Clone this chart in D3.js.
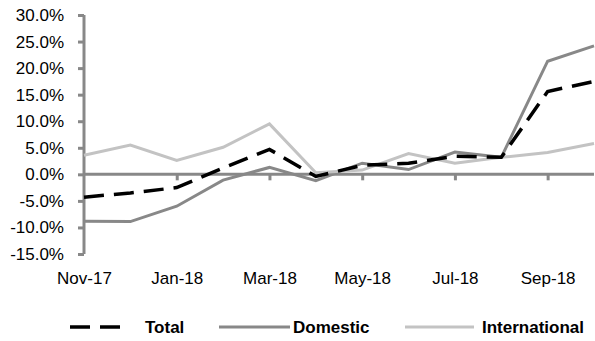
<!DOCTYPE html>
<html>
<head>
<meta charset="utf-8">
<script src="https://cdn.jsdelivr.net/npm/d3@7"></script>
<style>
  body { margin: 0; background: #fff; }
  text { font-family: "Liberation Sans", Arial, sans-serif; fill: #000; }
</style>
</head>
<body>
<div id="chart"></div>
<script>
// monthly growth, %
var months = ["Nov-17", "Dec-17", "Jan-18", "Feb-18", "Mar-18", "Apr-18",
              "May-18", "Jun-18", "Jul-18", "Aug-18", "Sep-18", "Oct-18"];
var total         = [-4.3, -3.5, -2.5, 1.2, 4.7, -0.4, 1.7, 2.1, 3.4, 3.2, 15.6, 17.5];
var domestic      = [-8.85, -8.9, -6.0, -1.1, 1.3, -1.2, 2.1, 0.9, 4.2, 3.2, 21.3, 24.2];
var international = [3.6, 5.5, 2.6, 5.1, 9.5, 0.3, 0.8, 3.9, 2.1, 3.2, 4.1, 5.8];
var yTicks = [-15, -10, -5, 0, 5, 10, 15, 20, 25, 30];
var xLabels = ["Nov-17", "Jan-18", "Mar-18", "May-18", "Jul-18", "Sep-18"];

var w = 595, h = 341,
    plotLeft = 84, plotRight = 594, plotTop = 15, plotBottom = 254,
    axisGrey = "#888888";

var svg = d3.select("#chart").append("svg")
    .attr("width", w)
    .attr("height", h);

var x = d3.scalePoint().domain(months).range([plotLeft, plotRight]);
var y = d3.scaleLinear().domain([-15, 30]).range([plotBottom, plotTop]);

// y axis
var yAxis = svg.append("g")
    .attr("transform", "translate(" + plotLeft + ",0)")
    .call(d3.axisLeft(y).tickValues(yTicks).tickSize(6).tickPadding(14)
        .tickFormat(function (d) { return d.toFixed(1) + "%"; }));
yAxis.selectAll("path, line").attr("stroke", axisGrey).attr("stroke-width", 3);
yAxis.select(".domain").attr("d", "M0," + plotTop + "V" + plotBottom);
yAxis.selectAll("text").style("font-size", "17px");

// x axis line at zero
var xAxis = svg.append("g")
    .attr("transform", "translate(0," + y(0) + ")")
    .call(d3.axisBottom(x).tickValues(xLabels.slice(1)).tickSize(6).tickFormat(""));
xAxis.selectAll("path, line").attr("stroke", axisGrey).attr("stroke-width", 3);
xAxis.select(".domain").attr("d", "M" + plotLeft + ",0H" + plotRight);

// x labels at bottom
var xLab = svg.append("g")
    .attr("transform", "translate(0," + plotBottom + ")")
    .call(d3.axisBottom(x).tickValues(xLabels).tickSize(0).tickPadding(18));
xLab.select(".domain").remove();
xLab.selectAll("text").style("font-size", "17px");

var line = d3.line()
    .x(function (d, i) { return x(months[i]); })
    .y(function (d) { return y(d); });

var series = [
    {name: "Domestic", values: domestic, color: "#888888", width: 3, dash: null},
    {name: "International", values: international, color: "#c3c3c3", width: 3, dash: null},
    {name: "Total", values: total, color: "#000000", width: 3.5, dash: "20,10"}
];

series.forEach(function (s) {
    svg.append("path")
        .datum(s.values)
        .attr("fill", "none")
        .attr("stroke", s.color)
        .attr("stroke-width", s.width)
        .attr("stroke-dasharray", s.dash)
        .attr("d", line);
});

// legend
var legend = [
    {name: "Total", color: "#000000", width: 3.5, dash: "20,10", x1: 70, x2: 130, tx: 145},
    {name: "Domestic", color: "#888888", width: 3, dash: null, x1: 219, x2: 290, tx: 293},
    {name: "International", color: "#c3c3c3", width: 3, dash: null, x1: 405, x2: 474, tx: 482}
];
var ly = 327;
legend.forEach(function (l) {
    svg.append("line")
        .attr("x1", l.x1).attr("x2", l.x2)
        .attr("y1", ly).attr("y2", ly)
        .attr("stroke", l.color)
        .attr("stroke-width", l.width)
        .attr("stroke-dasharray", l.dash);
    svg.append("text")
        .attr("x", l.tx).attr("y", ly)
        .attr("dy", "0.35em")
        .style("font-size", "17px")
        .style("font-weight", "bold")
        .text(l.name);
});
</script>
</body>
</html>
